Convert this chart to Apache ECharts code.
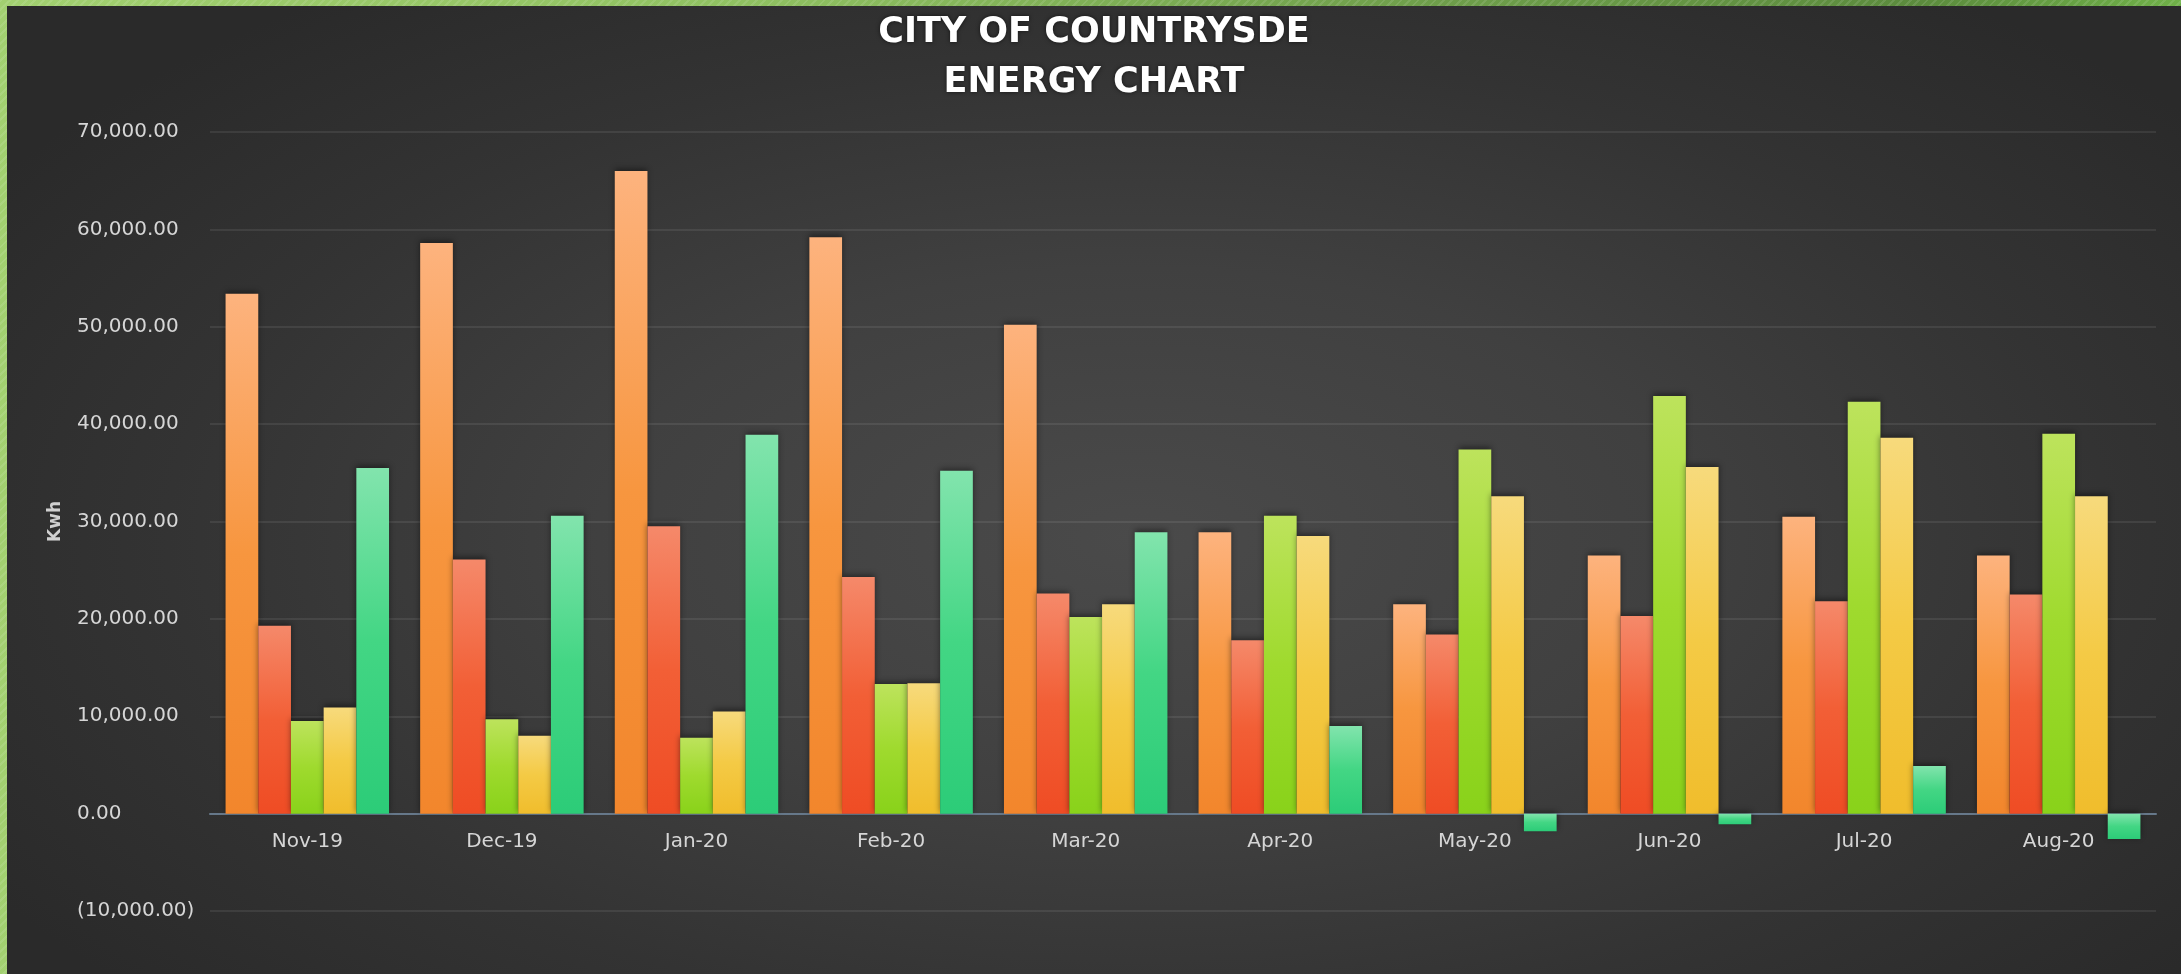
<!DOCTYPE html>
<html>
<head>
<meta charset="utf-8">
<script src="https://cdn.jsdelivr.net/npm/echarts@6/dist/echarts.min.js"></script>
<style>
  html, body { margin: 0; padding: 0; }
  body {
    width: 2181px; height: 974px; position: relative; overflow: hidden;
    background:
      repeating-linear-gradient(135deg, rgba(255,255,255,0.10) 0 2px, rgba(0,0,0,0) 2px 6px),
      linear-gradient(to right, #a2d070 0%, #8fc061 35%, #6f9f4b 65%, #5b8b3d 88%, #6fb048 100%);
  }
  #chart {
    position: absolute; left: 7px; top: 6px; width: 2174px; height: 968px;
    background: radial-gradient(ellipse 62% 70% at 52% 55%, #4a4a4a 0%, #404040 40%, #333333 72%, #2a2a2a 100%);
  }
</style>
</head>
<body>
<div id="chart"></div>
<script>
const categories = ['Nov-19','Dec-19','Jan-20','Feb-20','Mar-20','Apr-20','May-20','Jun-20','Jul-20','Aug-20'];
const seriesNames = ['Series 1','Series 2','Series 3','Series 4','Series 5'];
const orangeVals = [53400, 58600, 66000, 59200, 50200, 28900, 21500, 26500, 30500, 26500];
const redVals    = [19300, 26100, 29500, 24300, 22600, 17800, 18400, 20300, 21800, 22500];
const limeVals   = [9500, 9700, 7800, 13300, 20200, 30600, 37400, 42900, 42300, 39000];
const yellowVals = [10900, 8000, 10500, 13400, 21500, 28500, 32600, 35600, 38600, 32600];
const greenVals  = [35500, 30600, 38900, 35200, 28900, 9000, -1800, -1100, 4900, -2600];
const yMin = -10000, yMax = 70000, yStep = 10000;
const titleLines = ['CITY OF COUNTRYSDE', 'ENERGY CHART'];
const yAxisName = 'Kwh';

const palettes = [
  ['#fdb37e', '#f7963f', '#f2862c'],
  ['#f5896a', '#f25f36', '#ef4c24'],
  ['#bde35c', '#9fda2e', '#89d21a'],
  ['#f7da7c', '#f4ca45', '#f0bd2c'],
  ['#82e4ad', '#43d684', '#2ccc78']
];
const dataSets = [orangeVals, redVals, limeVals, yellowVals, greenVals];

function fmt(v) {
  const s = Math.abs(v).toLocaleString('en-US', {minimumFractionDigits: 2, maximumFractionDigits: 2});
  return v < 0 ? '(' + s + ')' : s;
}

const gridTop = 126, gridBottom = 63, chartH = 968;
const plotH = chartH - gridTop - gridBottom;
const zeroOffset = -plotH * (0 - yMin) / (yMax - yMin);

const chart = echarts.init(document.getElementById('chart'), null, {renderer: 'canvas'});
chart.setOption({
  backgroundColor: 'transparent',
  animation: false,
  title: {
    text: titleLines.join('\n'),
    left: 'center',
    top: 2,
    padding: 0,
    textStyle: {
      color: '#ffffff',
      fontFamily: 'DejaVu Sans',
      fontWeight: 'bold',
      fontSize: 35,
      lineHeight: 50,
      textShadowColor: 'rgba(0,0,0,0.6)',
      textShadowBlur: 4
    }
  },
  grid: { left: 203, right: 25, top: gridTop, bottom: gridBottom, containLabel: false },
  xAxis: {
    type: 'category',
    data: categories,
    offset: zeroOffset,
    axisTick: { show: false },
    axisLine: { show: true, onZero: false, lineStyle: { color: '#66788a', width: 2 } },
    axisLabel: { color: '#d6d6d6', fontFamily: 'DejaVu Sans', fontSize: 20, margin: 18 },
    splitLine: { show: false }
  },
  yAxis: {
    type: 'value',
    min: yMin, max: yMax, interval: yStep,
    name: yAxisName,
    nameLocation: 'middle',
    nameGap: 146,
    nameRotate: 90,
    nameTextStyle: { color: '#d0d0d0', fontFamily: 'DejaVu Sans', fontSize: 17, fontWeight: 'bold' },
    axisLine: { show: false },
    axisTick: { show: false },
    axisLabel: { color: '#d6d6d6', fontFamily: 'DejaVu Sans', fontSize: 20, margin: 133, align: 'left', formatter: fmt },
    splitLine: { lineStyle: { color: 'rgba(255,255,255,0.08)', width: 2 } }
  },
  series: dataSets.map((vals, i) => ({
    name: seriesNames[i],
    type: 'bar',
    data: vals,
    barGap: '0%',
    barCategoryGap: '16%',
    itemStyle: {
      color: new echarts.graphic.LinearGradient(0, 0, 0, 1, [
        { offset: 0, color: palettes[i][0] },
        { offset: 0.5, color: palettes[i][1] },
        { offset: 1, color: palettes[i][2] }
      ]),
      shadowColor: 'rgba(0,0,0,0.45)',
      shadowBlur: 6,
      shadowOffsetY: -2
    }
  }))
});
</script>
</body>
</html>
